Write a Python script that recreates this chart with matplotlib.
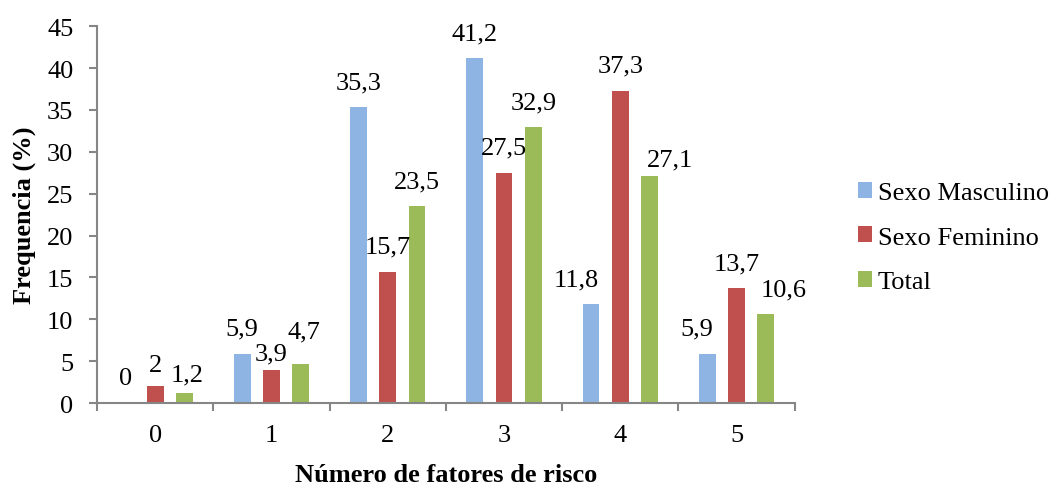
import matplotlib
matplotlib.use("Agg")
import matplotlib.pyplot as plt
import numpy as np

categories = ["0", "1", "2", "3", "4", "5"]
series_names = ["Sexo Masculino", "Sexo Feminino", "Total"]
masculino = [0, 5.9, 35.3, 41.2, 11.8, 5.9]
feminino = [2, 3.9, 15.7, 27.5, 37.3, 13.7]
total = [1.2, 4.7, 23.5, 32.9, 27.1, 10.6]
colors = ["#8EB4E3", "#C0504D", "#9BBB59"]

# label nudges in pixels (dx, dy) relative to default position above bar
nudges = {
    (0, 4): (-15, 0), (2, 4): (20, -8), (0, 5): (-10, 0), (2, 5): (18, 0),
    (1, 0): (0, -4), (2, 0): (3, -6), (1, 1): (0, -8), (2, 1): (3, 7),
}

plt.rcParams['font.family'] = ['Liberation Serif', 'DejaVu Serif']
FS = 19

fig = plt.figure(figsize=(10.54, 4.85), dpi=100)
ax = fig.add_axes([0.092, 0.167, 0.662, 0.777])

x = np.arange(len(categories))
w = 0.145
step = 0.252
data = [masculino, feminino, total]
for i, (vals, name, c) in enumerate(zip(data, series_names, colors)):
    pos = x + (i - 1) * step
    ax.bar(pos, vals, width=w, color=c, label=name, edgecolor='none')
    for j, (p, v) in enumerate(zip(pos, vals)):
        dx, dy = nudges.get((i, j), (0, 0))
        ax.annotate(f"{v:g}".replace('.', ','), xy=(p, v),
                    xytext=(dx * 0.72, (25 + dy) * 0.72), textcoords='offset points',
                    ha='center', va='center', fontsize=FS, color='black')

ax.set_xlim(-0.5, 5.5)
ax.set_ylim(0, 45)
ax.set_yticks(np.arange(0, 46, 5))
ax.set_xticks(x)
ax.set_xticklabels(categories)
ax.set_xticks(np.arange(-0.5, 6, 1), minor=True)

spine_c = '#868686'
for s in ['top', 'right']:
    ax.spines[s].set_visible(False)
for s in ['left', 'bottom']:
    ax.spines[s].set_color(spine_c)
    ax.spines[s].set_linewidth(1.5)

ax.tick_params(axis='y', which='major', length=6, width=1.5, color=spine_c,
               pad=11, labelsize=FS)
ax.tick_params(axis='x', which='major', length=0, pad=15, labelsize=FS)
ax.tick_params(axis='x', which='minor', length=6, width=1.5, color=spine_c)

ax.set_ylabel("Frequencia (%)", fontsize=FS, fontweight='bold', labelpad=8)
ax.set_xlabel("Número de fatores de risco", fontsize=FS, fontweight='bold', labelpad=12)

leg = fig.legend(loc='center left', bbox_to_anchor=(0.814, 0.508), frameon=False,
                 fontsize=FS, handlelength=0.55, handleheight=0.55,
                 handletextpad=0.2, labelspacing=0.85, borderaxespad=0,
                 borderpad=0)

fig.savefig("out.png", dpi=100)
